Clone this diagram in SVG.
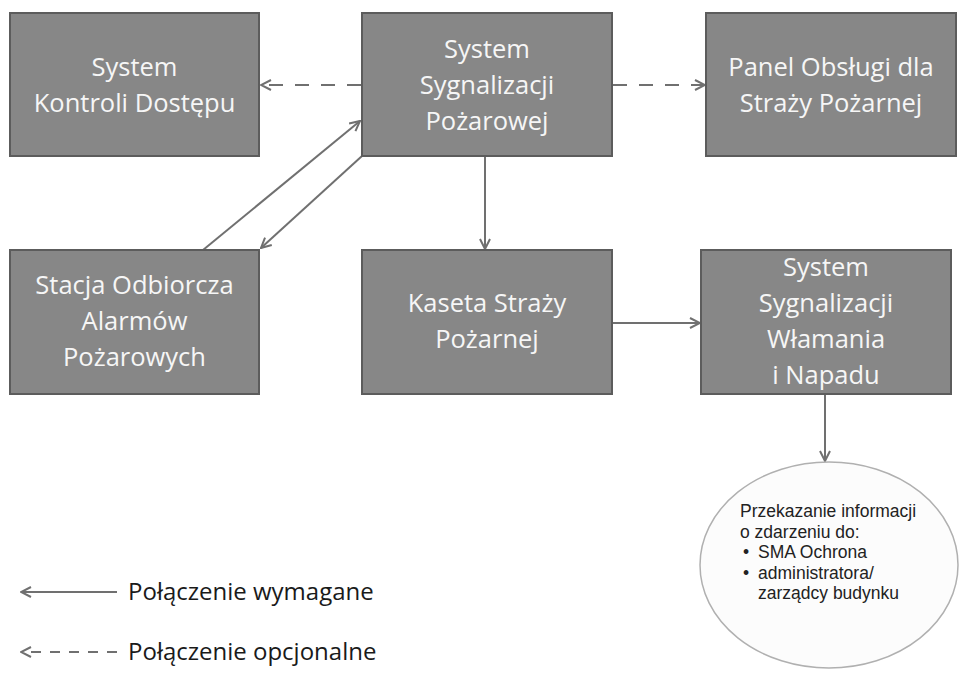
<svg xmlns="http://www.w3.org/2000/svg" width="961" height="675" viewBox="0 0 961 675">
<defs>
<style>
.box{fill:#878787;stroke:#5c5c5c;stroke-width:2}
.bt{font-family:"Open Sans","Noto Sans","Liberation Sans",sans-serif;font-size:25.5px;fill:#f6f6f6;text-anchor:middle}
.con{stroke:#707070;stroke-width:2;fill:none}
.dash{stroke-dasharray:14 12}
.et{font-family:"Liberation Sans",Arial,sans-serif;font-size:17.5px;fill:#222}
.lt{font-family:"Open Sans","Noto Sans","Liberation Sans",sans-serif;font-size:24px;fill:#1a1a1a}
</style>
<marker id="ah" viewBox="0 0 12 12" refX="11" refY="6" markerWidth="12" markerHeight="12" markerUnits="userSpaceOnUse" orient="auto">
<path d="M1,1 L11,6 L1,11" fill="none" stroke="#707070" stroke-width="2" stroke-dasharray="none"/>
</marker>
</defs>
<rect width="961" height="675" fill="#fff"/>

<g id="connectors">
<line class="con dash" x1="361" y1="85" x2="261" y2="85" marker-end="url(#ah)"/>
<line class="con dash" x1="613" y1="85" x2="705" y2="85" marker-end="url(#ah)"/>
<line class="con" x1="203" y1="250" x2="360" y2="121" marker-end="url(#ah)"/>
<line class="con" x1="362" y1="156" x2="261" y2="248" marker-end="url(#ah)"/>
<line class="con" x1="485" y1="156" x2="485" y2="249" marker-end="url(#ah)"/>
<line class="con" x1="613" y1="323" x2="700" y2="323" marker-end="url(#ah)"/>
<line class="con" x1="825" y1="394" x2="825" y2="461" marker-end="url(#ah)"/>
</g>

<g id="skd">
<rect class="box" x="10" y="13" width="249" height="143"/>
<text class="bt" x="134.5" y="76">System</text>
<text class="bt" x="134.5" y="112">Kontroli Dostępu</text>
</g>

<g id="ssp">
<rect class="box" x="362" y="13" width="250" height="143"/>
<text class="bt" x="487" y="58">System</text>
<text class="bt" x="487" y="94">Sygnalizacji</text>
<text class="bt" x="487" y="130">Pożarowej</text>
</g>

<g id="panel">
<rect class="box" x="706" y="13" width="250" height="143"/>
<text class="bt" x="831" y="76">Panel Obsługi dla</text>
<text class="bt" x="831" y="112">Straży Pożarnej</text>
</g>

<g id="stacja">
<rect class="box" x="10" y="250" width="249" height="144"/>
<text class="bt" x="134.5" y="294">Stacja Odbiorcza</text>
<text class="bt" x="134.5" y="330">Alarmów</text>
<text class="bt" x="134.5" y="366">Pożarowych</text>
</g>

<g id="kaseta">
<rect class="box" x="362" y="250" width="250" height="144"/>
<text class="bt" x="487" y="312">Kaseta Straży</text>
<text class="bt" x="487" y="348">Pożarnej</text>
</g>

<g id="sswin">
<rect class="box" x="701" y="250" width="250" height="144"/>
<text class="bt" x="826" y="276">System</text>
<text class="bt" x="826" y="312">Sygnalizacji</text>
<text class="bt" x="826" y="348">Włamania</text>
<text class="bt" x="826" y="384">i Napadu</text>
</g>

<g id="info">
<ellipse cx="829" cy="565" rx="129" ry="103" fill="#fcfcfc" stroke="#b0b0b0" stroke-width="1.5"/>
<text class="et" x="740" y="517">Przekazanie informacji</text>
<text class="et" x="740" y="537.5">o zdarzeniu do:</text>
<text class="et" x="743" y="558">•</text>
<text class="et" x="758" y="558">SMA Ochrona</text>
<text class="et" x="743" y="578.5">•</text>
<text class="et" x="758" y="578.5">administratora/</text>
<text class="et" x="758" y="599">zarządcy budynku</text>
</g>

<g id="legend">
<line class="con" x1="117" y1="592" x2="21" y2="592" marker-end="url(#ah)"/>
<text class="lt" x="128" y="600">Połączenie wymagane</text>
<line class="con" x1="117" y1="652" x2="21" y2="652" stroke-dasharray="10 9" marker-end="url(#ah)"/>
<text class="lt" x="128" y="660">Połączenie opcjonalne</text>
</g>
</svg>
